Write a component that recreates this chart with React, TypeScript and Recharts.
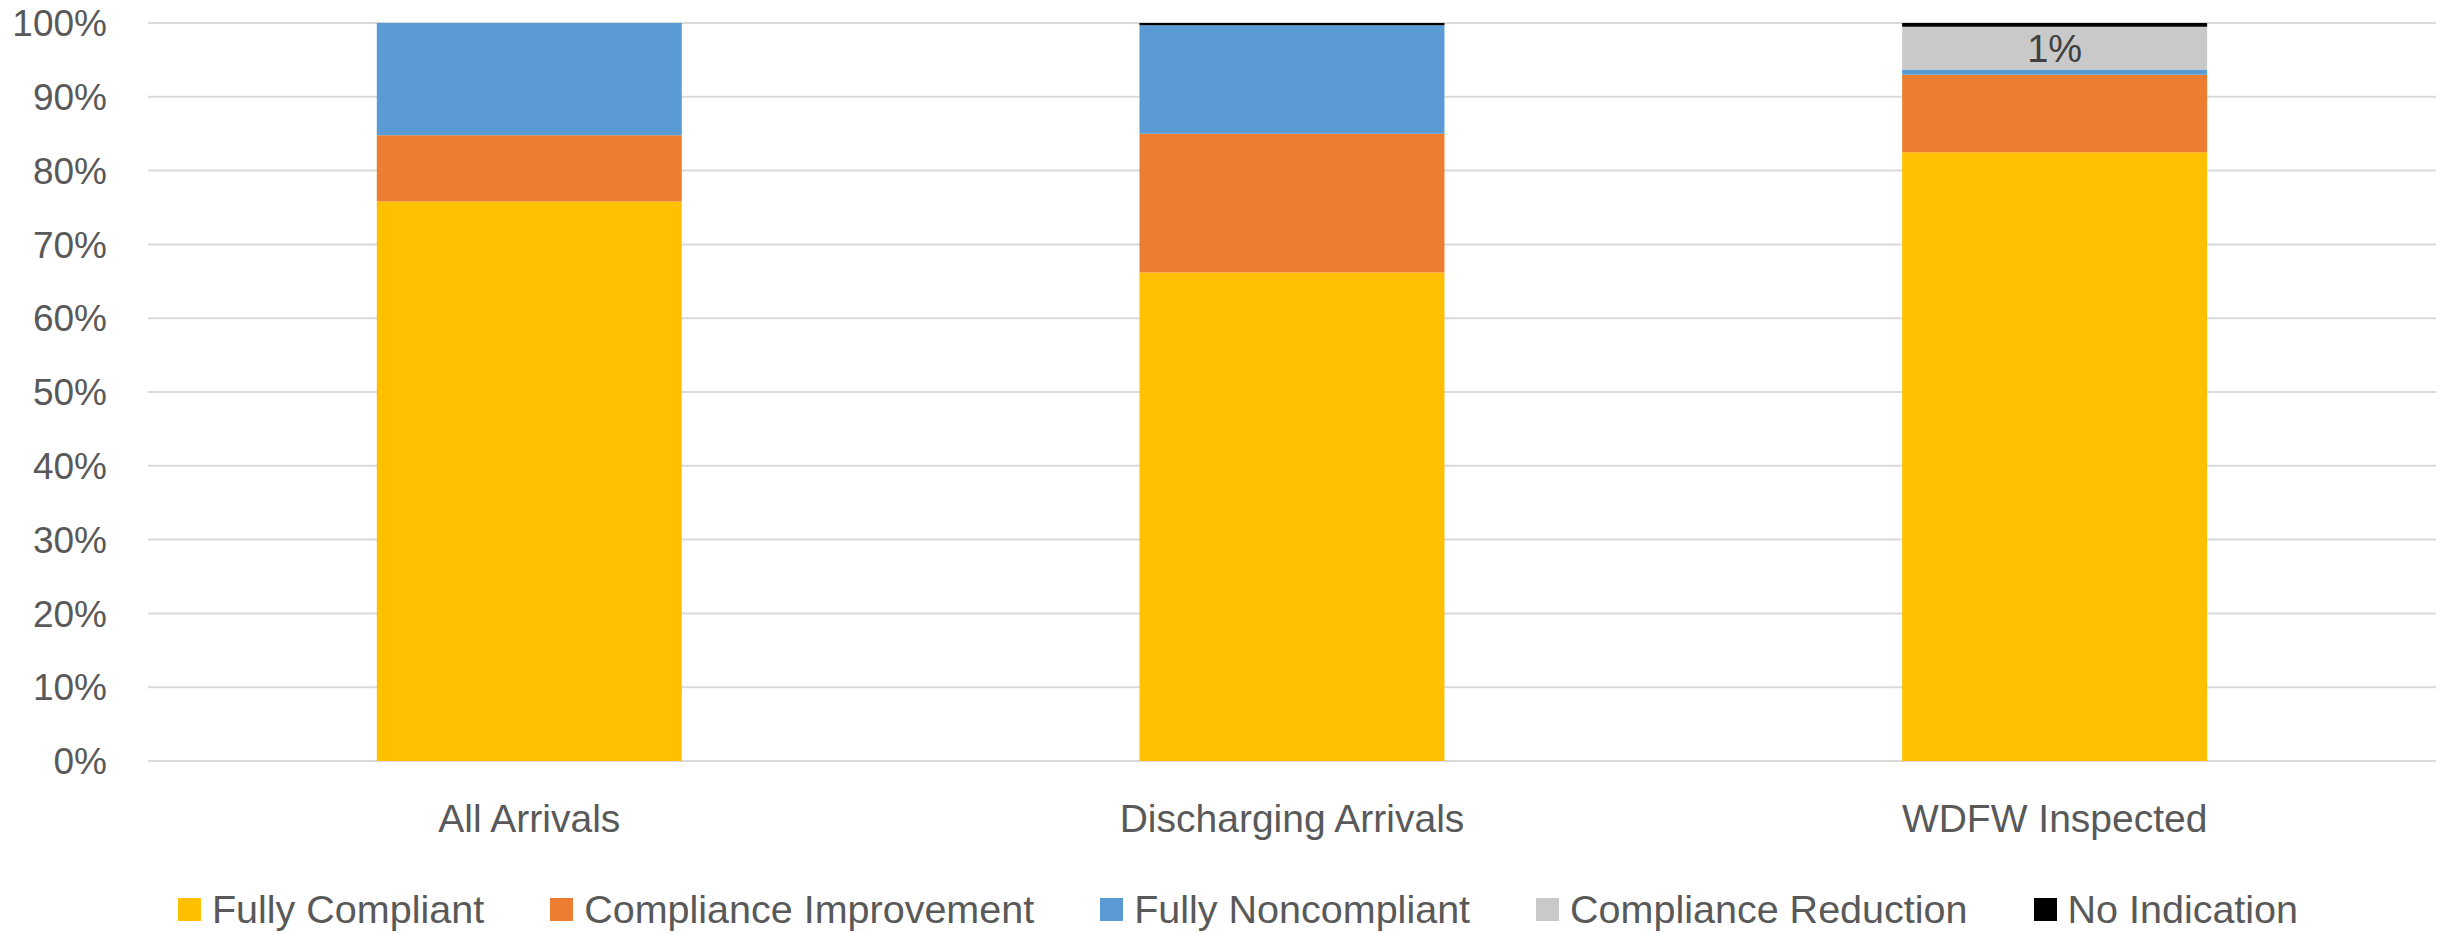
import React from "react";
import { BarChart, Bar, XAxis, YAxis, CartesianGrid, Legend, LabelList } from "recharts";

const categories = ["All Arrivals", "Discharging Arrivals", "WDFW Inspected"];
const fullyCompliant = [75.8, 66.2, 82.5];
const complianceImprovement = [9.0, 18.8, 10.5];
const fullyNoncompliant = [15.2, 14.7, 0.7];
const complianceReduction = [0, 0, 5.8];
const noIndication = [0, 0.3, 0.5];
const reductionLabels = ["", "", "1%"];
const yTicks = [0, 10, 20, 30, 40, 50, 60, 70, 80, 90, 100];

const series = [
  { key: "fullyCompliant", name: "Fully Compliant", color: "#FFC000" },
  { key: "complianceImprovement", name: "Compliance Improvement", color: "#ED7D31" },
  { key: "fullyNoncompliant", name: "Fully Noncompliant", color: "#5B9BD5" },
  { key: "complianceReduction", name: "Compliance Reduction", color: "#C9C9C9" },
  { key: "noIndication", name: "No Indication", color: "#000000" },
];

const data = categories.map((c, i) => ({
  category: c,
  fullyCompliant: fullyCompliant[i],
  complianceImprovement: complianceImprovement[i],
  fullyNoncompliant: fullyNoncompliant[i],
  complianceReduction: complianceReduction[i],
  noIndication: noIndication[i],
  reductionLabel: reductionLabels[i],
}));

const FONT = "'Liberation Sans', Arial, sans-serif";
const TEXT = "#595959";

const renderLegend = () => (
  <div
    style={{
      display: "flex",
      justifyContent: "center",
      alignItems: "center",
      height: 50,
      gap: 66,
      paddingLeft: 40,
      fontFamily: FONT,
      fontSize: 39.5,
      color: TEXT,
      whiteSpace: "nowrap",
    }}
  >
    {series.map((s) => (
      <div key={s.key} style={{ display: "flex", alignItems: "center" }}>
        <div style={{ width: 23, height: 23, background: s.color, marginRight: 11 }} />
        <span>{s.name}</span>
      </div>
    ))}
  </div>
);

export default function App() {
  return (
    <div style={{ position: "absolute", left: 0, top: 0, width: 2458, height: 934, background: "#fff" }}>
      <BarChart
        width={2458}
        height={934}
        data={data}
        margin={{ top: 23, right: 22, bottom: 0, left: 0 }}
        barCategoryGap="30%"
      >
        <CartesianGrid vertical={false} stroke="#D9D9D9" strokeWidth={2} />
        <XAxis
          dataKey="category"
          axisLine={false}
          tickLine={false}
          tickSize={0}
          tickMargin={43}
          height={123}
          tick={{ fill: TEXT, fontSize: 39, fontFamily: FONT }}
        />
        <YAxis
          domain={[0, 100]}
          ticks={yTicks}
          width={148}
          axisLine={false}
          tickLine={false}
          tickSize={0}
          tickMargin={41}
          interval={0}
          tickFormatter={(v: number) => `${v}%`}
          tick={{ fill: TEXT, fontSize: 37, fontFamily: FONT }}
        />
        <Legend verticalAlign="bottom" height={50} content={renderLegend} />
        {series.map((s) => (
          <Bar
            key={s.key}
            dataKey={s.key}
            name={s.name}
            stackId="a"
            fill={s.color}
            isAnimationActive={false}
          >
            {s.key === "complianceReduction" ? (
              <LabelList
                dataKey="reductionLabel"
                position="center"
                fill="#404040"
                fontSize={38}
                fontFamily={FONT}
              />
            ) : null}
          </Bar>
        ))}
      </BarChart>
    </div>
  );
}
